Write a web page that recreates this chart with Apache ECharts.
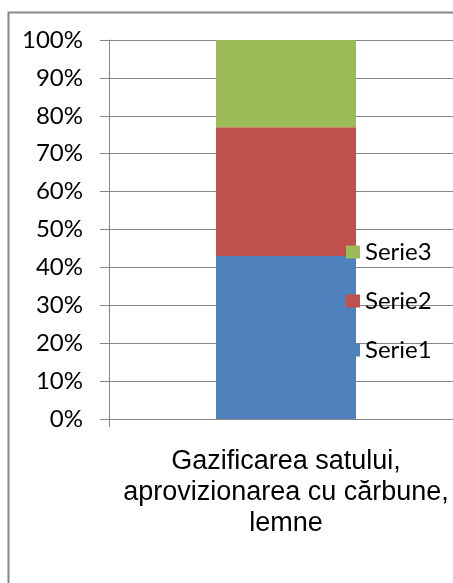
<!DOCTYPE html>
<html>
<head>
<meta charset="utf-8">
<script src="https://cdn.jsdelivr.net/npm/echarts@6/dist/echarts.min.js"></script>
<style>
html,body{margin:0;padding:0;background:#fff;}
#chart{width:453px;height:583px;}
</style>
</head>
<body>
<div id="chart"></div>
<script>
const categories = ['Gazificarea satului,\naprovizionarea cu cărbune,\nlemne'];
const seriesNames = ['Serie1', 'Serie2', 'Serie3'];
const serie1 = [43];
const serie2 = [34];
const serie3 = [23];
const colors = ['#4F81BD', '#C0504D', '#9BBB59'];

const chart = echarts.init(document.getElementById('chart'), null, {renderer: 'canvas'});
const mk = (name, data, color) => ({
  name: name, type: 'bar', stack: 'total', data: data, barWidth: 140,
  itemStyle: {color: color}, emphasis: {disabled: true}
});
chart.setOption({
  animation: false,
  backgroundColor: '#fff',
  color: colors,
  grid: {left: 109, top: 40, width: 354, height: 379, containLabel: false, outerBoundsMode: 'none'},
  xAxis: {
    type: 'category', data: categories,
    axisLine: {lineStyle: {color: '#868686', width: 1}},
    axisTick: {show: true, length: 8, lineStyle: {color: '#868686'}},
    axisLabel: {
      margin: 27, color: '#000', fontFamily: 'Liberation Sans', fontSize: 27,
      lineHeight: 31, align: 'center'
    }
  },
  yAxis: {
    type: 'value', min: 0, max: 100, interval: 10,
    axisLine: {show: true, lineStyle: {color: '#868686'}},
    axisTick: {show: true, length: 9, inside: false, lineStyle: {color: '#868686'}},
    axisLabel: {formatter: '{value}%', margin: 26, color: '#000', fontFamily: 'Lato', fontSize: 24},
    splitLine: {show: true, lineStyle: {color: '#868686', width: 1}}
  },
  legend: {
    orient: 'vertical', left: 346, top: 240,
    data: ['Serie3', 'Serie2', 'Serie1'],
    icon: 'rect', itemWidth: 14, itemHeight: 13, itemGap: 25,
    textStyle: {fontFamily: 'Lato', fontSize: 24, color: '#000', lineHeight: 23},
    selectedMode: false, padding: 0
  },
  graphic: [{
    type: 'rect', z: 100, silent: true,
    shape: {x: 8.5, y: 12.5, width: 480, height: 600},
    style: {fill: 'none', stroke: '#888888', lineWidth: 2}
  }],
  series: [mk('Serie1', serie1, colors[0]), mk('Serie2', serie2, colors[1]), mk('Serie3', serie3, colors[2])]
});
</script>
</body>
</html>
